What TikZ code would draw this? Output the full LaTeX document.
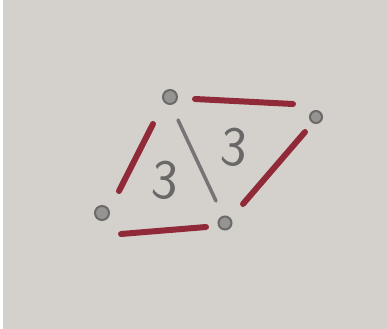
\documentclass[tikz,border=0pt]{standalone}
\begin{document}
\begin{tikzpicture}[x=1pt,y=-1pt,
  dot/.style={circle,minimum size=14pt,inner sep=0pt,fill=dotc,draw=dotd,line width=2pt},
  redline/.style={draw=redc,line width=6pt,line cap=round},
  pencil/.style={draw=pencilc,line width=3.5pt,line cap=round},
  digit/.style={text=digitc,font=\sffamily\fontsize{56}{56}\selectfont,inner sep=0pt}]
\definecolor{paperc}{RGB}{212,209,204}
\definecolor{dotc}{RGB}{150,148,146}
\definecolor{dotd}{RGB}{108,106,105}
\definecolor{redc}{RGB}{145,42,56}
\definecolor{pencilc}{RGB}{118,116,116}
\definecolor{digitc}{RGB}{105,103,103}
\useasboundingbox (0,0) rectangle (388,329);
\fill[paperc] (0,0) rectangle (388,329);
\fill[white] (0,0) rectangle (3,329);
% dots
\node[dot] (t) at (170,97) {};
\node[dot,minimum size=12pt] (r) at (316,117) {};
\node[dot] (l) at (102,213) {};
\node[dot,minimum size=13pt] (b) at (225,223) {};
% red segments
\coordinate (a1) at (195,99);  \coordinate (a2) at (293,104);
\coordinate (b1) at (153,124); \coordinate (b2) at (119,191);
\coordinate (c1) at (305,132); \coordinate (c2) at (243,204);
\coordinate (d1) at (121,234); \coordinate (d2) at (206,227);
\draw[redline] (a1) -- (a2);
\draw[redline] (b1) -- (b2);
\draw[redline] (c1) -- (c2);
\draw[redline] (d1) -- (d2);
% pencil diagonal
\coordinate (p1) at (178,120); \coordinate (p2) at (216,201);
\draw[pencil] (p1) -- (p2);
% labels
\node[digit,rotate=-5] (n1) at (165,180) {3};
\node[digit,rotate=-5] (n2) at (234,147) {3};
\end{tikzpicture}
\end{document}
